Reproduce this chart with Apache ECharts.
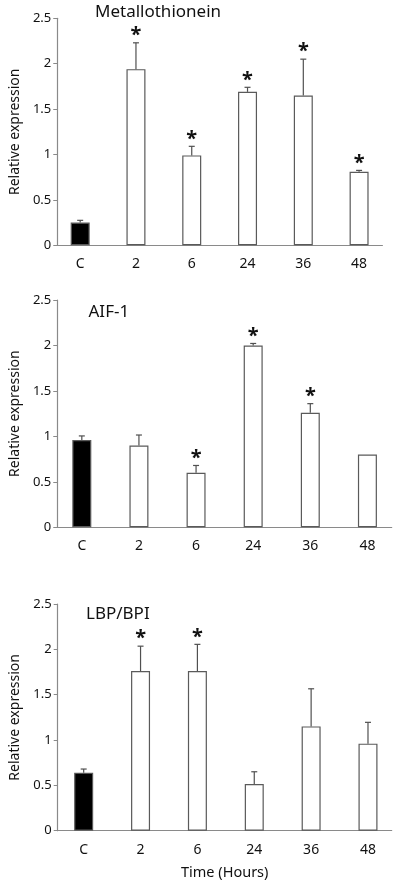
<!DOCTYPE html>
<html>
<head>
<meta charset="utf-8">
<script src="https://cdn.jsdelivr.net/npm/echarts@6/dist/echarts.min.js"></script>
<style>
html,body{margin:0;padding:0;background:#fff;}
#chart{width:394px;height:889px;}
</style>
</head>
<body>
<div id="chart"></div>
<script>
// ---- data ----
var categories = ['C', '2', '6', '24', '36', '48'];
var yTicks = [0, 0.5, 1, 1.5, 2, 2.5];

var mtTitle = 'Metallothionein';
var mtValues = [0.25, 1.94, 0.99, 1.69, 1.65, 0.81];
var mtErrors = [0.025, 0.29, 0.10, 0.05, 0.40, 0.015];
var mtSig = [0, 1, 1, 1, 1, 1];

var aifTitle = 'AIF-1';
var aifValues = [0.96, 0.90, 0.60, 2.00, 1.26, 0.80];
var aifErrors = [0.045, 0.115, 0.08, 0.022, 0.10, 0];
var aifSig = [0, 0, 1, 1, 1, 0];

var lbpTitle = 'LBP/BPI';
var lbpValues = [0.64, 1.76, 1.76, 0.515, 1.15, 0.96];
var lbpErrors = [0.04, 0.275, 0.295, 0.135, 0.415, 0.235];
var lbpSig = [0, 1, 1, 0, 0, 0];

var yName = 'Relative expression';
var xName = 'Time (Hours)';

// ---- styling / layout ----
var FONT = 'Noto Sans';
var AXIS_COLOR = '#8a8a8a';
var BAR_BORDER = '#5a5a5a';
var ERR_COLOR = '#505050';

var grids = [
  {left: 51.7, top: 18.3, width: 330.7, height: 227},
  {left: 51.7, top: 300, width: 340, height: 227.3},
  {left: 57.7, top: 604, width: 334, height: 226.7}
];
var xRanges = [[-0.411, 5.418], [-0.43, 5.425], [-0.457, 5.417]];
var nameGaps = [30, 30.5, 31.5];
var titles = [
  {text: mtTitle, left: 95, top: 4},
  {text: aifTitle, left: 88.5, top: 304},
  {text: lbpTitle, left: 86, top: 606}
];
var datasets = [
  [mtValues, mtErrors, mtSig],
  [aifValues, aifErrors, aifSig],
  [lbpValues, lbpErrors, lbpSig]
];

var xAxes = [], yAxes = [], series = [], titleOpts = [];
for (var k = 0; k < 3; k++) {
  var xr = xRanges[k];
  xAxes.push({
    type: 'value', gridIndex: k, min: xr[0], max: xr[1],
    axisLine: {show: true, onZero: false, lineStyle: {color: AXIS_COLOR, width: 1.2}},
    axisTick: {show: false},
    splitLine: {show: false},
    axisLabel: {
      customValues: [0, 1, 2, 3, 4, 5],
      margin: 12,
      color: '#111', fontFamily: FONT, fontSize: 14,
      formatter: function (v) {
        var i = Math.round(v);
        return Math.abs(v - i) < 1e-6 && categories[i] !== undefined ? categories[i] : '';
      }
    },
    name: k === 2 ? xName : '',
    nameLocation: 'middle', nameGap: 35,
    nameTextStyle: {color: '#111', fontFamily: FONT, fontSize: 14.5}
  });
  yAxes.push({
    type: 'value', gridIndex: k, min: yTicks[0], max: yTicks[yTicks.length - 1], interval: 0.5,
    axisLine: {show: true, onZero: false, lineStyle: {color: AXIS_COLOR, width: 1.2}},
    axisTick: {show: true, inside: false, length: 4, lineStyle: {color: AXIS_COLOR}},
    splitLine: {show: false},
    axisLabel: {color: '#111', fontFamily: FONT, fontSize: 13, margin: 6},
    name: yName, nameLocation: 'middle', nameGap: nameGaps[k], nameRotate: 90,
    nameTextStyle: {color: '#111', fontFamily: FONT, fontSize: 14}
  });
  var d = datasets[k];
  var barData = [];
  var errData = [];
  for (var i = 0; i < categories.length; i++) {
    barData.push({
      value: [i, d[0][i]],
      itemStyle: {color: i === 0 ? '#000' : '#fff'}
    });
    errData.push([i, d[0][i], d[1][i], d[2][i]]);
  }
  series.push({
    type: 'bar', xAxisIndex: k, yAxisIndex: k, barWidth: 19,
    data: barData,
    itemStyle: {borderColor: BAR_BORDER, borderWidth: 1.2},
    silent: true, animation: false
  });
  series.push({
    type: 'custom', xAxisIndex: k, yAxisIndex: k,
    data: errData, silent: true, animation: false, z: 5,
    renderItem: function (params, api) {
      var x = api.value(0), v = api.value(1), e = api.value(2), s = api.value(3);
      var p0 = api.coord([x, v]);
      var p1 = api.coord([x, v + e]);
      var children = [];
      if (e > 0) {
        children.push({type: 'line', shape: {x1: p0[0], y1: p0[1], x2: p1[0], y2: p1[1]},
          style: {stroke: ERR_COLOR, lineWidth: 1.2}});
        children.push({type: 'line', shape: {x1: p1[0] - 3, y1: p1[1], x2: p1[0] + 3, y2: p1[1]},
          style: {stroke: ERR_COLOR, lineWidth: 1.2}});
      }
      if (s) {
        children.push({type: 'text', x: p1[0], y: p1[1] - 7.5,
          style: {text: '*', fontFamily: FONT, fontSize: 20, fontWeight: 'bold', fill: '#111',
            align: 'center', verticalAlign: 'middle'}});
      }
      return {type: 'group', children: children};
    }
  });
  titleOpts.push({
    text: titles[k].text, left: titles[k].left, top: titles[k].top, padding: 0,
    textStyle: {fontFamily: FONT, fontSize: 17, fontWeight: 'normal', color: '#111'}
  });
}

var chart = echarts.init(document.getElementById('chart'), null, {renderer: 'canvas'});
chart.setOption({
  backgroundColor: '#fff',
  animation: false,
  title: titleOpts,
  grid: grids,
  xAxis: xAxes,
  yAxis: yAxes,
  series: series
});
</script>
</body>
</html>
